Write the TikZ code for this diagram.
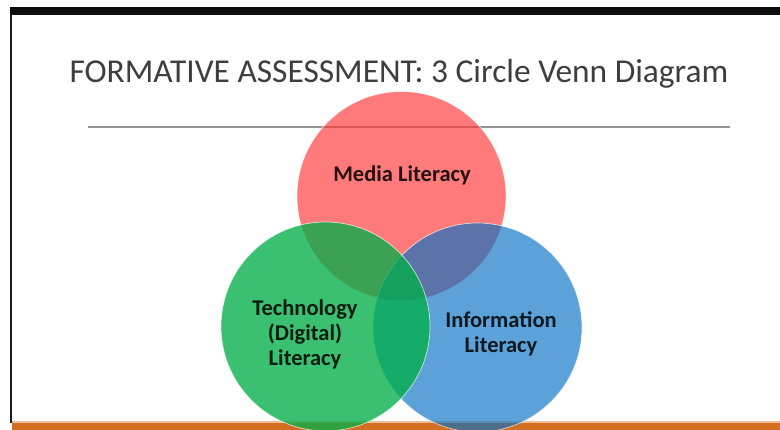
\documentclass[tikz,border=0pt]{standalone}
\usepackage{fontspec}
\setmainfont{Carlito}
\usetikzlibrary{positioning}
\definecolor{mediared}{RGB}{255,56,56}
\definecolor{infoblue}{RGB}{0,111,195}
\definecolor{techgreen}{RGB}{0,174,71}
\definecolor{barorange}{RGB}{212,110,34}
\definecolor{titlegray}{RGB}{62,62,62}
\begin{document}
\begin{tikzpicture}[x=1pt, y=-1pt,
		venn/.style={circle, minimum size=209pt, inner sep=0pt, draw=white, line width=0.7pt, draw opacity=0.7},
		vennlabel/.style={font=\fontsize{22.5}{25}\selectfont\bfseries, align=center, text=black, text opacity=0.85}]
			\useasboundingbox (0,0) rectangle (780,430);
			\fill[white] (0,0) rectangle (780,430);
			\fill[black!95] (10,7) rectangle (780,15);
			\fill[black!90] (10,15) rectangle (11.5,423);
			\fill[barorange!45] (11.5,421) rectangle (780,423);
			\fill[barorange] (11.5,423) rectangle (780,430);
			\draw[gray!85, line width=1.5pt] (88,127) -- (730,127);
			\node (title)[anchor=base, text=titlegray, font=\fontsize{33.4}{40}\selectfont] at (399,83) {FORMATIVE ASSESSMENT: 3 Circle Venn Diagram};
			\node (media)[venn, fill=mediared, fill opacity=0.66] at (401.5,196) {};
			\node (info)[venn, fill=infoblue, fill opacity=0.64] at (477.5,327.5) {};
			\node (tech)[venn, fill=techgreen, fill opacity=0.77] at (325.5,326.5) {};
			\node (medialabel)[vennlabel] at (402,175) {Media Literacy};
			\node (techlabel)[vennlabel] at (305,334) {Technology\\(Digital)\\Literacy};
			\node (infolabel)[vennlabel] at (501,334) {Information\\Literacy};
		\end{tikzpicture}
\end{document}
